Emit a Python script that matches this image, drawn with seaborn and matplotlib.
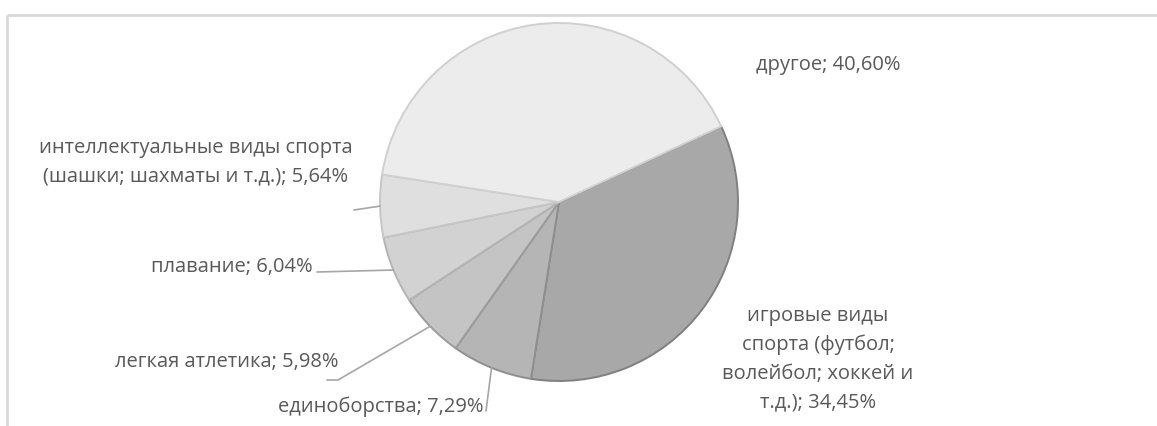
import numpy as np
import matplotlib
matplotlib.use('Agg')
import matplotlib.pyplot as plt
import seaborn as sns

sns.set_theme()
sns.set_style('white')
plt.rcParams['font.family'] = ['Open Sans', 'DejaVu Sans']

# данные
categories = ['игровые виды\nспорта (футбол;\nволейбол; хоккей и\nт.д.)',
              'единоборства',
              'легкая атлетика',
              'плавание',
              'интеллектуальные виды спорта\n(шашки; шахматы и т.д.)',
              'другое']
shares = [34.45, 7.29, 5.98, 6.04, 5.64, 40.60]
fill_colors = ['#a8a8a8', '#b5b5b5', '#c4c4c4', '#d2d2d2', '#dfdfdf', '#ececec']
edge_colors = ['#808080', '#8f8f8f', '#9c9c9c', '#b4b4b4', '#c6c6c6', '#d0d0d0']

W, H = 1157, 427
fig = plt.figure(figsize=(W / 100, H / 100), dpi=100)
ax = fig.add_axes([0, 0, 1, 1])

cx, cy, r = 559, H - 203, 179
wedges, _ = ax.pie(shares, colors=fill_colors, startangle=25, counterclock=False,
                   center=(cx, cy), radius=r,
                   wedgeprops=dict(linewidth=1.4))
for w, ec in zip(wedges, edge_colors):
    w.set_edgecolor(ec)

ax.set_xlim(0, W)
ax.set_ylim(0, H)
ax.set_aspect('equal')
ax.axis('off')

# рамка области диаграммы
ax.plot([7, W], [H - 16, H - 16], color='#d9d9d9', lw=2, solid_capstyle='butt')
ax.plot([7, 7], [0, H - 16], color='#d9d9d9', lw=2, solid_capstyle='butt')

txt = '#595959'
fs = 14.5
ls = 1.58
lc = '#a6a6a6'


def anchor(i):
    w = wedges[i]
    a = np.deg2rad((w.theta1 + w.theta2) / 2)
    return cx + r * np.cos(a), cy + r * np.sin(a)


lbl = [f"{c}; {s:.2f}".replace('.', ',') + '%' for c, s in zip(categories, shares)]
lbl = [s.replace('т,д,', 'т.д.') for s in lbl]

# игровые
ax.text(818, H - 359, lbl[0], ha='center', va='center', fontsize=fs, color=txt,
        linespacing=ls)
# другое
ax.text(828, H - 65, lbl[5], ha='center', va='center', fontsize=fs, color=txt)
# интеллектуальные
ax.text(196, H - 162, lbl[4], ha='center', va='center', fontsize=fs, color=txt,
        linespacing=ls)
ax_, ay_ = anchor(4)
ax.plot([354, ax_], [H - 211, ay_], color=lc, lw=1.2)
# плавание
ax.text(313, H - 267, lbl[3], ha='right', va='center', fontsize=fs, color=txt)
ax_, ay_ = anchor(3)
ax.plot([317, ax_], [H - 273, ay_], color=lc, lw=1.2)
# легкая атлетика
ax.text(338, H - 362, lbl[2], ha='right', va='center', fontsize=fs, color=txt)
ax_, ay_ = anchor(2)
ax.plot([327, 338, ax_], [H - 381, H - 381, ay_], color=lc, lw=1.2)
# единоборства
ax.text(483, H - 407, lbl[1], ha='right', va='center', fontsize=fs, color=txt)
ax_, ay_ = anchor(1)
ax.plot([486, ax_], [H - 412, ay_], color=lc, lw=1.2)

fig.savefig('out.png', dpi=100)
